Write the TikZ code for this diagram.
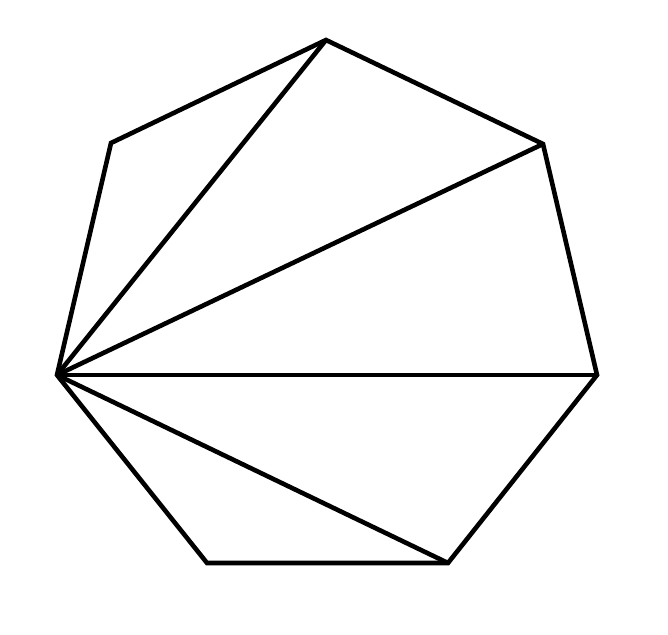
\documentclass[tikz,border=0pt]{standalone}
\begin{document}
\begin{tikzpicture}[x=1pt,y=-1pt,edge/.style={line width=4.6pt,line join=miter,black}]
\useasboundingbox (0,0) rectangle (668,634);
\coordinate (A) at (326,40);
\coordinate (B) at (543,144);
\coordinate (C) at (597,375);
\coordinate (D) at (448,563);
\coordinate (E) at (207,563);
\coordinate (F) at (57,375);
\coordinate (G) at (111,143);
\draw[edge] (A) -- (B) -- (C) -- (D) -- (E) -- (F) -- (G) -- cycle;
\draw[edge] (F) -- (A);
\draw[edge] (F) -- (B);
\draw[edge] (F) -- (C);
\draw[edge] (F) -- (D);
\end{tikzpicture}
\end{document}
